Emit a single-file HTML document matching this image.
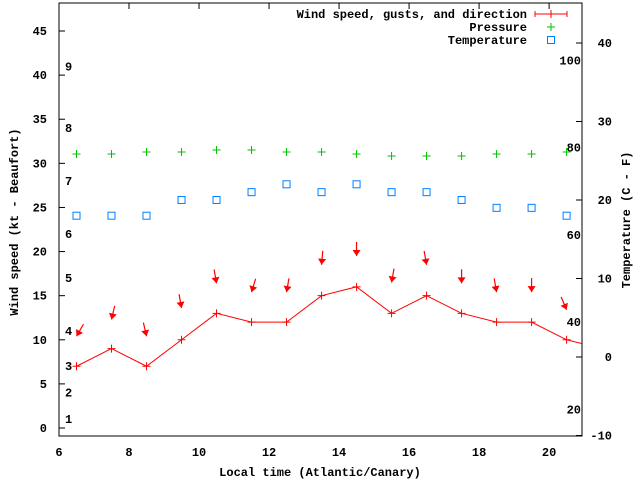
<!DOCTYPE html>
<html><head><meta charset="utf-8"><style>
html,body{margin:0;padding:0;background:#fff}
svg{display:block}
text{font-family:"Liberation Mono","DejaVu Sans Mono",monospace;font-weight:bold;font-size:12px;fill:#000}
</style></head><body>
<svg id="chart" width="640" height="480" xmlns="http://www.w3.org/2000/svg">
<g id="axes"></g>
<g id="marks"></g>
</svg>
<script>
const hours = [6.5,7.5,8.5,9.5,10.5,11.5,12.5,13.5,14.5,15.5,16.5,17.5,18.5,19.5,20.5,21.5];
const windSpeed = [7,9,7,10,13,12,12,15,16,13,15,13,12,12,10,9];
const gusts = [10.4,12.3,10.4,13.6,16.4,15.4,15.4,18.5,19.5,16.5,18.5,16.4,15.4,15.4,13.4];
const windDir = [30,13,347,350,350,17,10,5,0,10,350,0,350,0,337];
const pressure = [1017,1017,1018,1018,1019,1019,1018,1018,1017,1016,1016,1016,1017,1017,1018];
const temperature = [18,18,18,20,20,21,22,21,22,21,21,20,19,19,18];
const ktTicks = [0,5,10,15,20,25,30,35,40,45];
const beaufortLabels = ["1","2","3","4","5","6","7","8","9"];
const beaufortKt = [1,4,7,11,17,22,28,34,41];
const timeTicks = [6,8,10,12,14,16,18,20];
const tempTicks = [-10,0,10,20,30,40];
const fahrTicks = [20,40,60,80,100];

const L=59,R=582,T=3,B=436;
const X0=6,X1=20.94;
const sx=h=>L+(h-X0)/(X1-X0)*(R-L);
const sy=k=>428-k*8.822;
const sc=c=>357-c*7.85;
const sp=p=>154-(p-1017)*2;
const NS="http://www.w3.org/2000/svg";
const axes=document.getElementById('axes'), marks=document.getElementById('marks');
function mk(parent,tag,attrs){const e=document.createElementNS(NS,tag);for(const k in attrs)e.setAttribute(k,attrs[k]);parent.appendChild(e);return e;}

// clip
const defs=mk(document.getElementById('chart'),'defs',{});
const cp=mk(defs,'clipPath',{id:'clip'});mk(cp,'rect',{x:L,y:T,width:R-L,height:B-T});

let e=mk(axes,'rect',{x:L,y:T,width:R-L,height:B-T,fill:'none',stroke:'#000','stroke-width':1});



ktTicks.forEach(v=>{
  const y=sy(v);
  let t=mk(axes,'line',{x1:L,x2:L+6,y1:y,y2:y,stroke:'#000'});
  
  
  let l=mk(axes,'text',{x:L-12,y:y+4,'text-anchor':'end'});l.textContent=v;
  
  
});
beaufortLabels.forEach((s,i)=>{
  let l=mk(axes,'text',{x:65,y:sy(beaufortKt[i])+4});l.textContent=s;
  
  
});
timeTicks.forEach(v=>{
  const x=sx(v);
  let t=mk(axes,'line',{x1:x,x2:x,y1:T,y2:T+6,stroke:'#000'});
  
  
  let l=mk(axes,'text',{x:x,y:B+20,'text-anchor':'middle'});l.textContent=v;
  
  
});
tempTicks.forEach(v=>{
  const y=sc(v);
  let t=mk(axes,'line',{x1:R-6,x2:R,y1:y,y2:y,stroke:'#000'});
  
  
  let l=mk(axes,'text',{x:R+30,y:y+4,'text-anchor':'end'});l.textContent=v;
  
  
});
fahrTicks.forEach(v=>{
  const y=sc((v-32)*5/9);
  let l=mk(axes,'text',{x:581,y:y+4,'text-anchor':'end'});l.textContent=v;
  
  
});
let at=mk(axes,'text',{x:0,y:0,'text-anchor':'middle',transform:'translate(18,222) rotate(-90)'});at.textContent='Wind speed (kt - Beaufort)';


at=mk(axes,'text',{x:0,y:0,'text-anchor':'middle',transform:'translate(630,220) rotate(-90)'});at.textContent='Temperature (C - F)';


at=mk(axes,'text',{x:320,y:476,'text-anchor':'middle'});at.textContent='Local time (Atlantic/Canary)';



const g=mk(marks,'g',{'clip-path':'url(#clip)'});
function plus(x,y,c,n){
  let p=mk(g,'path',{d:`M${x-4},${y}h8M${x},${y-4}v8`,stroke:c,'stroke-width':1,fill:'none'});
  
  
}
let pts=hours.map((h,i)=>sx(h)+','+sy(windSpeed[i])).join(' ');
let pl=mk(g,'polyline',{points:pts,fill:'none',stroke:'#f00','stroke-width':1});


hours.forEach((h,i)=>plus(sx(h),sy(windSpeed[i]),'#f00','wind-speed-point'));

gusts.forEach((gv,i)=>{
  const hx=sx(hours[i]), hy=sy(gv);
  const a=windDir[i]*Math.PI/180;
  const dx=-Math.sin(a), dy=Math.cos(a);
  const len=14;
  const tx=hx-dx*len, ty=hy-dy*len;
  let ln=mk(g,'line',{x1:tx,y1:ty,x2:hx,y2:hy,stroke:'#f00','stroke-width':1.2});
  
  
  const bx=hx-dx*6, by=hy-dy*6, px=-dy*4, py=dx*4;
  let tri=mk(g,'polygon',{points:`${hx},${hy} ${bx+px},${by+py} ${bx-px},${by-py}`,fill:'#f00'});
  
  
});
pressure.forEach((p,i)=>plus(sx(hours[i]),sp(p),'#00c000','pressure-point'));
temperature.forEach((t,i)=>{
  let r=mk(g,'rect',{x:sx(hours[i])-3.5,y:sc(t)-3.5,width:7,height:7,fill:'none',stroke:'#0080ff','stroke-width':1});
  
  
});

// legend
const lg=mk(marks,'g',{});


const lt=[['Wind speed, gusts, and direction',14],['Pressure',27],['Temperature',40]];
lt.forEach(([s,y])=>{let t=mk(lg,'text',{x:527,y:y+4,'text-anchor':'end'});t.textContent=s;
  
  });
mk(lg,'path',{d:'M535,14h32M535,11v6M567,11v6M551,10v8',stroke:'#f00',fill:'none'});
mk(lg,'path',{d:'M551,23v8M547,27h8',stroke:'#00c000',fill:'none'});
mk(lg,'rect',{x:547.5,y:36.5,width:7,height:7,fill:'none',stroke:'#0080ff'});
</script>
</body></html>
